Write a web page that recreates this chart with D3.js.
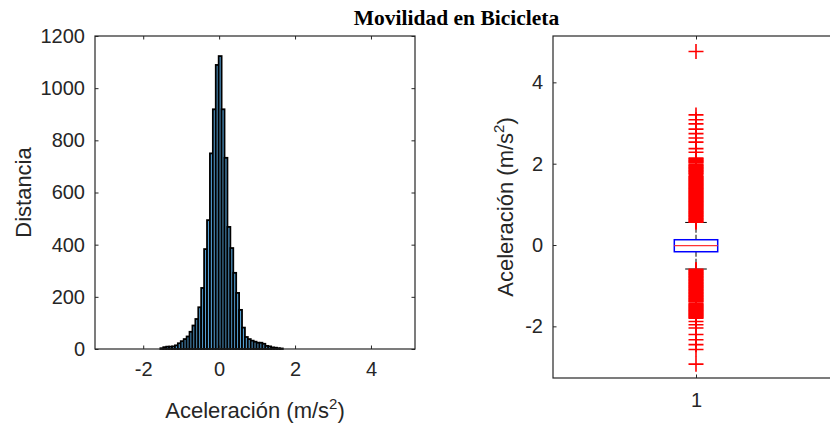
<!DOCTYPE html>
<html><head><meta charset="utf-8">
<script src="https://cdn.jsdelivr.net/npm/d3@7"></script>
<style>body{margin:0;background:#fff}svg{display:block}</style>
</head><body>
<svg id="c" width="830" height="428"></svg>
<script>
// ---------- data ----------
const titleText = "Movilidad en Bicicleta";
const histBinStart = -2.93;
const histBinWidth = 0.0768;
const histCounts = [
  0,0,0,0,0,0,0,0,0,0, 0,0,0,0,0,0,0,0,
  3,7,9,9,10,14,22,30,38,48,66,90,115,160,234,383,494,750,919,1089,
  1123,
  919,733,468,387,292,215,150,82,46,38,32,28,24,24,20,12,10,6,5,3,2,
  0,0,0,0,0,0,0,0,0,0, 0,0,0,0,0,0,0,0,0,0, 0,0,0,0,0,0,0,0,0,0, 0,0,0,0,0,0,0,0,0,0
];
const histXTicks = [-2, 0, 2, 4];
const histYTicks = [0, 200, 400, 600, 800, 1000, 1200];
const histXLabel = "Aceleración (m/s";
const histYLabel = "Distancia";

const boxCategories = [1];
const boxQuartiles = [-0.165, -0.017, 0.13];   // q1, median, q3
const boxWhiskers = [-0.59, 0.555];           // lower, upper adjacent values
const outliersHigh = [4.76, 3.20, 3.08, 2.98, 2.85, 2.74, 2.63, 2.53, 2.37, 2.28,
  2.14, 2.12, 2.10, 2.08, 2.06, 2.04, 2.02, 1.98, 1.96, 1.94, 1.92, 1.90, 1.88, 1.86,
  1.84, 1.82, 1.80, 1.78, 1.76, 1.74, 1.70, 1.68, 1.66, 1.64, 1.62, 1.60, 1.58, 1.56,
  1.54, 1.52, 1.50, 1.48, 1.46, 1.44, 1.42, 1.40, 1.38, 1.36, 1.34, 1.32, 1.30, 1.28,
  1.26, 1.24, 1.22, 1.20, 1.18, 1.16, 1.14, 1.12, 1.10, 1.08, 1.06, 1.04, 1.02, 1.00,
  0.98, 0.96, 0.94, 0.92, 0.90, 0.88, 0.86, 0.84, 0.82, 0.80, 0.78, 0.76, 0.74, 0.72,
  0.70, 0.68, 0.66, 0.64, 0.62, 0.60, 0.58, 0.56];
const outliersLow = [-0.60, -0.62, -0.64, -0.66, -0.68, -0.70, -0.72, -0.74, -0.76, -0.78,
  -0.80, -0.82, -0.84, -0.86, -0.88, -0.90, -0.92, -0.94, -0.96, -0.98, -1.00, -1.02,
  -1.04, -1.06, -1.08, -1.10, -1.12, -1.14, -1.16, -1.18, -1.20, -1.22, -1.24, -1.26,
  -1.28, -1.30, -1.32, -1.34, -1.36, -1.38, -1.40, -1.44, -1.46, -1.48, -1.50, -1.52,
  -1.54, -1.56, -1.58, -1.60, -1.62, -1.64, -1.66, -1.68, -1.70, -1.72, -1.74, -1.76,
  -1.78, -1.80, -1.88, -1.96, -2.04, -2.20, -2.33, -2.45, -2.57, -2.93];
const boxYTicks = [-2, 0, 2, 4];
const boxYLabel = "Aceleración (m/s";

// ---------- drawing ----------
const svg = d3.select("#c");
const axisColor = "#262626";
const tickFont = "Liberation Sans, Arial, Helvetica, sans-serif";
const fmt = d => String(d);

// Left: histogram
const L = {x0: 95, x1: 415, y0: 36, y1: 349};
const xH = d3.scaleLinear().domain([-3.27, 5.16]).range([L.x0, L.x1]);
const yH = d3.scaleLinear().domain([0, 1200]).range([L.y1, L.y0]);

const bins = histCounts.map((c, i) => ({x0: histBinStart + i * histBinWidth, x1: histBinStart + (i + 1) * histBinWidth, c}));
svg.append("g").selectAll("rect").data(bins.filter(b => b.c > 0)).join("rect")
  .attr("x", d => xH(d.x0)).attr("width", d => xH(d.x1) - xH(d.x0))
  .attr("y", d => yH(d.c)).attr("height", d => yH(0) - yH(d.c))
  .attr("fill", "#55a0d4").attr("stroke", "#000").attr("stroke-width", 1.8);

function styleAxis(g) {
  g.select(".domain").remove();
  g.selectAll(".tick line").attr("stroke", axisColor).attr("stroke-width", 1);
  g.selectAll(".tick text").attr("fill", axisColor).attr("font-size", 20).attr("font-family", tickFont);
}
svg.append("g").attr("transform", `translate(0,${L.y1})`)
  .call(d3.axisBottom(xH).tickValues(histXTicks).tickFormat(fmt).tickSizeInner(-3.5).tickSizeOuter(0).tickPadding(13)).call(styleAxis);
svg.append("g").attr("transform", `translate(0,${L.y0})`)
  .call(d3.axisTop(xH).tickValues(histXTicks).tickSizeInner(-3.5).tickSizeOuter(0).tickFormat("")).call(styleAxis);
svg.append("g").attr("transform", `translate(${L.x0},0)`)
  .call(d3.axisLeft(yH).tickValues(histYTicks).tickFormat(fmt).tickSizeInner(-3.5).tickSizeOuter(0).tickPadding(10)).call(styleAxis);
svg.append("g").attr("transform", `translate(${L.x1},0)`)
  .call(d3.axisRight(yH).tickValues(histYTicks).tickSizeInner(-3.5).tickSizeOuter(0).tickFormat("")).call(styleAxis);
svg.append("rect").attr("x", L.x0).attr("y", L.y0).attr("width", L.x1 - L.x0).attr("height", L.y1 - L.y0)
  .attr("fill", "none").attr("stroke", axisColor).attr("stroke-width", 1.2);

// x label with superscript
const xl = svg.append("text").attr("x", (L.x0 + L.x1) / 2).attr("y", 418).attr("text-anchor", "middle")
  .attr("font-family", tickFont).attr("font-size", 22).attr("fill", axisColor);
xl.append("tspan").text(histXLabel);
xl.append("tspan").attr("dy", -9).attr("font-size", 15).text("2");
xl.append("tspan").attr("dy", 9).text(")");

svg.append("text").attr("transform", `translate(31,${(L.y0 + L.y1) / 2}) rotate(-90)`).attr("text-anchor", "middle")
  .attr("font-family", tickFont).attr("font-size", 22).attr("fill", axisColor).text(histYLabel);

// Right: boxplot
const R = {x0: 553, x1: 839, y0: 36, y1: 378};
const xB = d3.scaleLinear().domain([0.5, 1.5]).range([R.x0, R.x1]);
const yB = d3.scaleLinear().domain([-3.27, 5.14]).range([R.y1, R.y0]);

svg.append("g").attr("transform", `translate(0,${R.y1})`)
  .call(d3.axisBottom(xB).tickValues(boxCategories).tickFormat(fmt).tickSizeInner(-3.5).tickSizeOuter(0).tickPadding(15)).call(styleAxis);
svg.append("g").attr("transform", `translate(0,${R.y0})`)
  .call(d3.axisTop(xB).tickValues(boxCategories).tickSizeInner(-3.5).tickSizeOuter(0).tickFormat("")).call(styleAxis);
svg.append("g").attr("transform", `translate(${R.x0},0)`)
  .call(d3.axisLeft(yB).tickValues(boxYTicks).tickFormat(fmt).tickSizeInner(-3.5).tickSizeOuter(0).tickPadding(10)).call(styleAxis);
svg.append("rect").attr("x", R.x0).attr("y", R.y0).attr("width", R.x1 - R.x0).attr("height", R.y1 - R.y0)
  .attr("fill", "none").attr("stroke", axisColor).attr("stroke-width", 1.2);

const bx = xB(boxCategories[0]);
const boxHalf = 21.7, capHalf = 10.8, mk = 7.5;
const gb = svg.append("g");
// whiskers
gb.append("line").attr("x1", bx).attr("x2", bx).attr("y1", yB(boxQuartiles[2])).attr("y2", yB(boxWhiskers[1]))
  .attr("stroke", "#000").attr("stroke-width", 1).attr("stroke-dasharray", "5,2");
gb.append("line").attr("x1", bx).attr("x2", bx).attr("y1", yB(boxQuartiles[0])).attr("y2", yB(boxWhiskers[0]))
  .attr("stroke", "#000").attr("stroke-width", 1).attr("stroke-dasharray", "5,2");
boxWhiskers.forEach(w => gb.append("line").attr("x1", bx - capHalf).attr("x2", bx + capHalf)
  .attr("y1", yB(w)).attr("y2", yB(w)).attr("stroke", "#000").attr("stroke-width", 1));
// box
gb.append("rect").attr("x", bx - boxHalf).attr("width", 2 * boxHalf)
  .attr("y", yB(boxQuartiles[2])).attr("height", yB(boxQuartiles[0]) - yB(boxQuartiles[2]))
  .attr("fill", "none").attr("stroke", "#0000ff").attr("stroke-width", 1.5);
gb.append("line").attr("x1", bx - boxHalf).attr("x2", bx + boxHalf)
  .attr("y1", yB(boxQuartiles[1])).attr("y2", yB(boxQuartiles[1])).attr("stroke", "#ff3333").attr("stroke-width", 1.3);
// outliers
gb.append("g").selectAll("path").data(outliersHigh.concat(outliersLow)).join("path")
  .attr("d", d => `M${bx - mk},${yB(d)}H${bx + mk}M${bx},${yB(d) - mk}V${yB(d) + mk}`)
  .attr("stroke", "#ff0000").attr("stroke-width", 1.6).attr("fill", "none");

const yl = svg.append("text").attr("transform", `translate(513,${(R.y0 + R.y1) / 2}) rotate(-90)`).attr("text-anchor", "middle")
  .attr("font-family", tickFont).attr("font-size", 22).attr("fill", axisColor);
yl.append("tspan").text(boxYLabel);
yl.append("tspan").attr("dy", -9).attr("font-size", 15).text("2");
yl.append("tspan").attr("dy", 9).text(")");

// title
svg.append("text").attr("x", 456.5).attr("y", 25).attr("text-anchor", "middle")
  .attr("font-family", "Liberation Serif, Times New Roman, serif").attr("font-weight", "bold")
  .attr("font-size", 21.5).attr("fill", "#000").text(titleText);
</script>
</body></html>
